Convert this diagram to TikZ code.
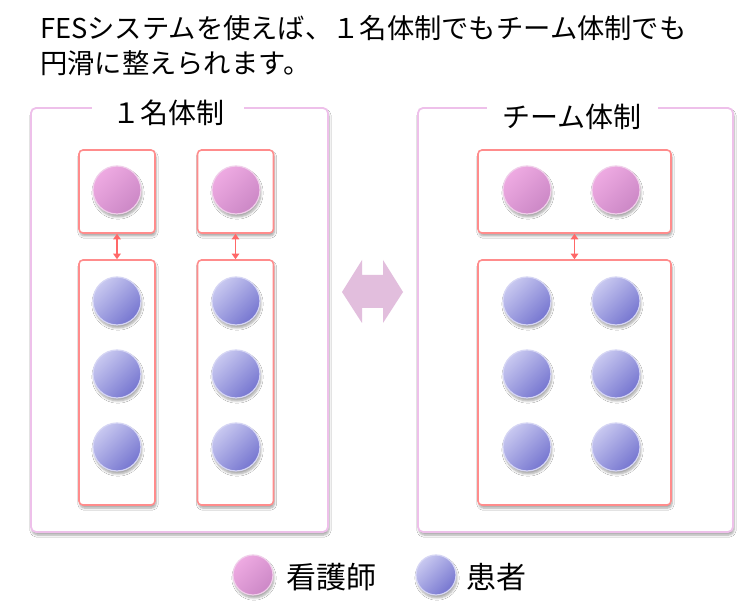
\documentclass[tikz,border=0pt]{standalone}
\usepackage{fontspec}
\setmainfont{Noto Sans CJK JP}
\usetikzlibrary{shadows.blur,arrows.meta}
\definecolor{panelc}{HTML}{EEC0EA}
\definecolor{boxc}{HTML}{FF8C8C}
\definecolor{nurseA}{HTML}{EEAAE2}
\definecolor{nurseB}{HTML}{CC88C6}
\definecolor{nurseE}{HTML}{F0CFEA}
\definecolor{patA}{HTML}{C8C8F0}
\definecolor{patB}{HTML}{7676D0}
\definecolor{patE}{HTML}{D6D6F4}
\definecolor{arrowc}{HTML}{FF6868}
\definecolor{bigarrow}{HTML}{E2BEDD}
\tikzset{
  softshadow/.style={blur shadow={shadow xshift=1pt, shadow yshift=-3pt, shadow blur steps=6, shadow opacity=35}},
  panel/.style={rectangle, rounded corners=5pt, draw=panelc, line width=1.8pt, fill=white, softshadow, minimum width=297pt, minimum height=424pt, inner sep=0pt},
  ptitle/.style={fill=white, minimum height=30pt, inner sep=0pt, font=\fontsize{28pt}{30pt}\selectfont},
  gbox/.style={rectangle, rounded corners=4pt, draw=boxc, line width=1.6pt, fill=white, softshadow, inner sep=0pt},
  nurse/.style={circle, minimum size=48pt, inner sep=0pt, draw=nurseE, line width=1.2pt, top color=nurseA, bottom color=nurseB, shading angle=45, softshadow},
  patient/.style={circle, minimum size=48pt, inner sep=0pt, draw=patE, line width=1.2pt, top color=patA, bottom color=patB, shading angle=45, softshadow},
  link/.style={draw=arrowc, line width=1.3pt, {Triangle[length=5.5pt,width=7.5pt]}-{Triangle[length=5.5pt,width=7.5pt]}},
  legtext/.style={anchor=west, inner sep=0pt, font=\fontsize{30pt}{32pt}\selectfont}
}
\begin{document}
\begin{tikzpicture}[x=1pt,y=-1pt]
\useasboundingbox (0,0) rectangle (756,609);
\fill[white] (0,0) rectangle (756,609);

% header
\node[anchor=west, align=left, inner sep=0pt, font=\fontsize{27.3pt}{35pt}\selectfont] (head) at (40,45.5)
  {FESシステムを使えば、１名体制でもチーム体制でも\\円滑に整えられます。};

% panels
\node[panel] (lpanel) at (179.5,320) {};
\node[panel, minimum width=315pt] (rpanel) at (575.5,320) {};
\node[ptitle, minimum width=152pt] (ltitle) at (168,113) {１名体制};
\node[ptitle, minimum width=171pt] (rtitle) at (572,117) {チーム体制};

% left: one nurse per group
\node[gbox, minimum width=76pt, minimum height=83pt] (lnbox1) at (117,191.5) {};
\node[gbox, minimum width=76pt, minimum height=83pt] (lnbox2) at (235.5,191.5) {};
\node[gbox, minimum width=76pt, minimum height=245pt] (lpbox1) at (117,382.5) {};
\node[gbox, minimum width=76pt, minimum height=245pt] (lpbox2) at (235.5,382.5) {};
\node[nurse] (ln1) at (117,190) {};
\node[nurse] (ln2) at (236,190) {};
\foreach \i/\y in {1/301,2/374,3/447}{
  \node[patient] (lpl\i) at (117,\y) {};
  \node[patient] (lpr\i) at (236,\y) {};
}
\draw[link] (lnbox1.south) -- (lpbox1.north);
\draw[link] (lnbox2.south) -- (lpbox2.north);

% right: team
\node[gbox, minimum width=193pt, minimum height=83pt] (rnbox) at (574.5,191.5) {};
\node[gbox, minimum width=193pt, minimum height=245pt] (rpbox) at (574.5,382.5) {};
\node[nurse] (rn1) at (527,190) {};
\node[nurse] (rn2) at (616,190) {};
\foreach \i/\y in {1/301,2/374,3/447}{
  \node[patient] (rpl\i) at (527,\y) {};
  \node[patient] (rpr\i) at (616,\y) {};
}
\draw[link] (rnbox.south) -- (rpbox.north);

% middle double arrow
\fill[bigarrow] (342,292) -- (362,260) -- (362,275) -- (383,275) -- (383,260) -- (403,292)
  -- (383,323) -- (383,308) -- (362,308) -- (362,323) -- cycle;

% legend
\node[nurse, minimum size=40pt] (legn) at (253,575) {};
\node[legtext] (legnt) at (286,577) {看護師};
\node[patient, minimum size=40pt] (legp) at (436,575) {};
\node[legtext] (legpt) at (466,577) {患者};
\end{tikzpicture}
\end{document}
